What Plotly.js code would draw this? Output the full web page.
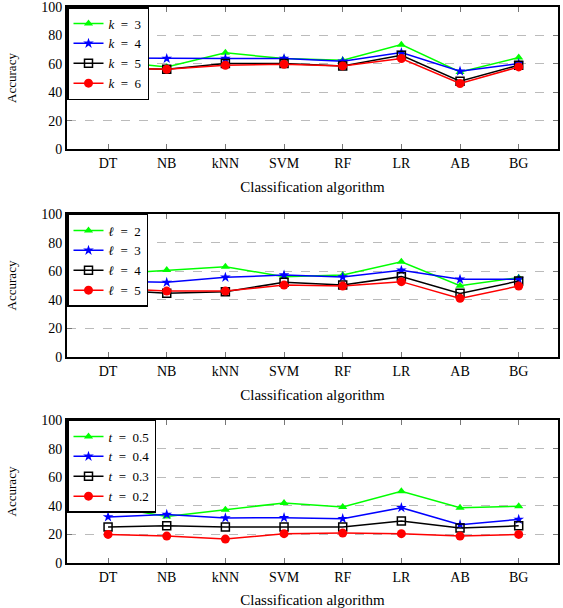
<!DOCTYPE html>
<html>
<head>
<meta charset="utf-8">
<script src="https://cdn.plot.ly/plotly-3.0.1.min.js"></script>
<style>html,body{margin:0;padding:0;background:#fff;}#chart{width:563px;height:608px;}</style>
</head>
<body>
<div id="chart"></div>
<script>
const categories = ["DT","NB","kNN","SVM","RF","LR","AB","BG"];
const yTicks = [0,20,40,60,80,100];

// Panel 1: k
const k3 = [62, 57.8, 67.7, 63.7, 62.5, 73.5, 54.3, 64.4];
const k4 = [64, 63.7, 63.7, 63.7, 61.8, 67.9, 54.8, 60.2];
const k5 = [57, 56.2, 60.2, 60.2, 58.5, 66.0, 47.8, 59.0];
const k6 = [57, 56.2, 59.0, 59.7, 58.5, 63.7, 46.1, 57.8];
const kNames = ["<i>k</i>\u2002=\u20023","<i>k</i>\u2002=\u20024","<i>k</i>\u2002=\u20025","<i>k</i>\u2002=\u20026"];

// Panel 2: l
const l2 = [58, 60.8, 63.1, 56.2, 57.3, 66.6, 49.9, 55.5];
const l3 = [53, 52.2, 55.7, 57.3, 55.9, 60.6, 54.3, 54.3];
const l4 = [47, 44.5, 45.7, 52.2, 50.3, 56.2, 44.5, 53.1];
const l5 = [48, 46.1, 46.1, 50.3, 49.6, 52.7, 41.0, 49.6];
const lNames = ["<i>ℓ</i>\u2002=\u20022","<i>ℓ</i>\u2002=\u20023","<i>ℓ</i>\u2002=\u20024","<i>ℓ</i>\u2002=\u20025"];

// Panel 3: t
const t05 = [39.6, 32.6, 37.3, 42.0, 39.2, 50.2, 38.7, 39.6];
const t04 = [32.2, 34.0, 31.5, 31.7, 31.0, 38.7, 26.8, 30.5];
const t03 = [25.1, 26.0, 25.1, 25.1, 25.1, 29.4, 24.4, 26.0];
const t02 = [20.0, 18.8, 16.7, 20.5, 20.9, 20.5, 18.8, 20.0];
const tNames = ["<i>t</i>\u2002=\u20020.5","<i>t</i>\u2002=\u20020.4","<i>t</i>\u2002=\u20020.3","<i>t</i>\u2002=\u20020.2"];

const styles = [
  {color:"#00ff00", symbol:"triangle-up", size:8},
  {color:"#0000ff", symbol:"star", size:8},
  {color:"#000000", symbol:"square-open", size:8},
  {color:"#ff0000", symbol:"circle", size:9}
];

const panels = [
  {series:[k3,k4,k5,k6], names:kNames, xa:"x", ya:"y", lg:"legend"},
  {series:[l2,l3,l4,l5], names:lNames, xa:"x2", ya:"y2", lg:"legend2"},
  {series:[t05,t04,t03,t02], names:tNames, xa:"x3", ya:"y3", lg:"legend3"}
];

const traces = [];
panels.forEach(p => {
  p.series.forEach((s, i) => {
    const st = styles[i];
    traces.push({
      type:"scatter", mode:"lines+markers",
      x: categories, y: s, name: p.names[i],
      xaxis: p.xa, yaxis: p.ya, legend: p.lg,
      line:{color:st.color, width:1.5},
      marker:{color:st.color, symbol:st.symbol, size:st.size,
              line:{color:st.color, width: st.symbol==="square-open"?1.5:0}}
    });
  });
});

const FAM = "'Liberation Serif', 'Times New Roman', serif";
const font = {family:FAM, size:14, color:"#000"};

function xaxis(anchor){
  return {
    anchor: anchor, type:"category", range:[-0.7, 7.67],
    showline:true, linecolor:"#000", linewidth:2, mirror:"ticks",
    ticks:"inside", ticklen:5, tickwidth:1, tickcolor:"#777",
    showgrid:false, zeroline:false, fixedrange:true,
    tickfont:{family:FAM, size:14, color:"#000"},
    title:{text:"Classification algorithm", font:{family:FAM, size:15, color:"#000"}, standoff:12}
  };
}
function yaxis(anchor, domain){
  return {
    anchor: anchor, domain: domain, range:[0,100], tickvals:yTicks,
    showline:true, linecolor:"#000", linewidth:2, mirror:"ticks",
    ticks:"inside", ticklen:5, tickwidth:1, tickcolor:"#777",
    showgrid:true, gridcolor:"#bbbbbb", gridwidth:1, griddash:"dash",
    zeroline:false, fixedrange:true, ticklabeloverflow:"allow",
    tickfont:{family:FAM, size:14, color:"#000"},
    title:{text:"Accuracy", font:{family:FAM, size:13, color:"#000"}, standoff:22}
  };
}
function legend(ytop){
  return {
    x:0.0, y:ytop, xref:"paper", yref:"paper", xanchor:"left", yanchor:"top",
    bgcolor:"#fff", bordercolor:"#000", borderwidth:1.5,
    font:{family:FAM, size:13, color:"#000"},
    tracegroupgap:0, itemwidth:30
  };
}

const d1 = [0.7446, 1.0], d2 = [0.3705, 0.6277], d3 = [0.0, 0.2572];

const layout = {
  width:563, height:608,
  margin:{l:67, r:5, t:7, b:45},
  paper_bgcolor:"#fff", plot_bgcolor:"#fff",
  font: font,
  showlegend:true,
  xaxis: xaxis("y"), yaxis: yaxis("x", d1),
  xaxis2: xaxis("y2"), yaxis2: yaxis("x2", d2),
  xaxis3: xaxis("y3"), yaxis3: yaxis("x3", d3),
  legend: legend(d1[1]), legend2: legend(d2[1]), legend3: legend(d3[1])
};

Plotly.newPlot("chart", traces, layout, {displayModeBar:false, staticPlot:true});
</script>
</body>
</html>
